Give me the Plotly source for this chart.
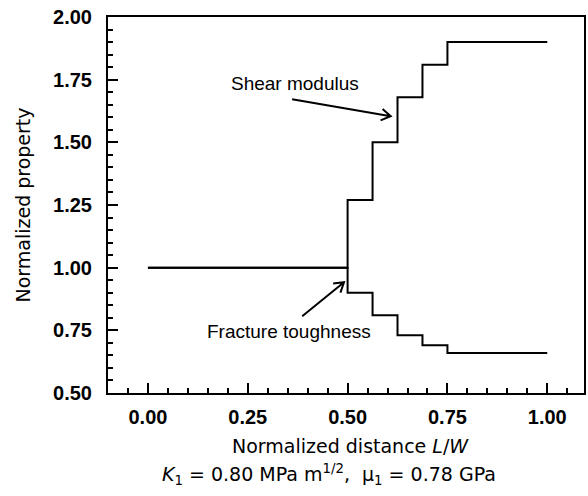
import math
import plotly.graph_objects as go

# ---- data ----
distance = [0.0, 0.5, 0.5625, 0.625, 0.6875, 0.75, 1.0]
shear_modulus = [1.00, 1.27, 1.50, 1.68, 1.81, 1.90, 1.90]
fracture_toughness = [1.00, 0.90, 0.81, 0.73, 0.69, 0.66, 0.66]
x_ticks = [0.0, 0.25, 0.5, 0.75, 1.0]
y_ticks = [0.5, 0.75, 1.0, 1.25, 1.5, 1.75, 2.0]

TICKFONT = dict(family="Liberation Sans, Arial", size=20, color="black", weight="bold")
TITLEFONT = dict(family="DejaVu Sans", size=19, color="black")
ANNFONT = dict(family="Liberation Sans, Arial", size=19, color="black")

W, H = 588, 496
L, R, T, B = 108, 2, 17, 103
XR = [-0.1, 1.092]
YR = [0.5, 2.0]

fig = go.Figure()
for ys in (shear_modulus, fracture_toughness):
    fig.add_trace(go.Scatter(x=distance, y=ys, mode="lines", line_shape="hv",
                             line=dict(color="black", width=2), showlegend=False,
                             hoverinfo="skip"))

axis_common = dict(showline=True, linecolor="black", linewidth=2, mirror=True,
                   ticks="inside", ticklen=10, tickwidth=2, tickcolor="black",
                   showgrid=False, zeroline=False, tickfont=TICKFONT)

fig.update_xaxes(range=XR, tickvals=x_ticks,
                 ticktext=[f"{v:.2f}" for v in x_ticks], ticklabelstandoff=5,
                 minor=dict(dtick=0.05, tick0=0, ticks="inside", ticklen=5,
                            tickwidth=2, tickcolor="black"),
                 **axis_common)
fig.update_yaxes(range=YR, tickvals=y_ticks,
                 ticktext=[f"{v:.2f}" for v in y_ticks], ticklabelstandoff=10,
                 minor=dict(dtick=0.05, tick0=0, ticks="inside", ticklen=5,
                            tickwidth=2, tickcolor="black"),
                 title=dict(text="Normalized property", font=TITLEFONT, standoff=17),
                 **axis_common)

fig.update_layout(width=W, height=H, margin=dict(l=L, r=R, t=T, b=B),
                  paper_bgcolor="white", plot_bgcolor="white")

# pixel -> data scale factors (for arrow geometry)
sx = (XR[1] - XR[0]) / (W - L - R)
sy = (YR[1] - YR[0]) / (H - T - B)

ann = []
ann.append(dict(x=0.369, y=1.736, xref="x", yref="y", text="Shear modulus",
                showarrow=False, font=ANNFONT))
ann.append(dict(x=0.352, y=0.747, xref="x", yref="y", text="Fracture toughness",
                showarrow=False, font=ANNFONT))

# arrows: tip in data coords, tail offset in pixels (screen, y down)
arrows = [((0.608, 1.604), (-99, -17)), ((0.491, 0.942), (-42, 34))]
shapes = []
for (tx, ty), (ax, ay) in arrows:
    tailx, taily = tx + ax * sx, ty - ay * sy
    n = math.hypot(ax, ay)
    bx, by = ax / n, ay / n
    arms = []
    for ang in (math.radians(32), math.radians(-32)):
        rx = bx * math.cos(ang) - by * math.sin(ang)
        ry = bx * math.sin(ang) + by * math.cos(ang)
        arms.append((tx + rx * 11 * sx, ty - ry * 11 * sy))
    path = (f"M{tailx},{taily} L{tx},{ty} "
            f"M{arms[0][0]},{arms[0][1]} L{tx},{ty} L{arms[1][0]},{arms[1][1]}")
    shapes.append(dict(type="path", path=path, xref="x", yref="y",
                       line=dict(color="black", width=2)))

ann.append(dict(x=(352 - L) / (W - L - R), y=1 - (446 - T) / (H - T - B),
                xref="paper", yref="paper", text="Normalized distance <i>L</i>/<i>W</i>",
                showarrow=False, font=TITLEFONT, yanchor="middle"))
ann.append(dict(x=(330 - L) / (W - L - R), y=1 - (474 - T) / (H - T - B),
                xref="paper", yref="paper",
                text="<i>K</i><sub>1</sub> = 0.80 MPa m<sup>1/2</sup>,  \u03bc<sub>1</sub> = 0.78 GPa",
                showarrow=False, font=TITLEFONT, yanchor="middle"))
fig.update_layout(annotations=ann, shapes=shapes)

fig.write_html("out.html")
